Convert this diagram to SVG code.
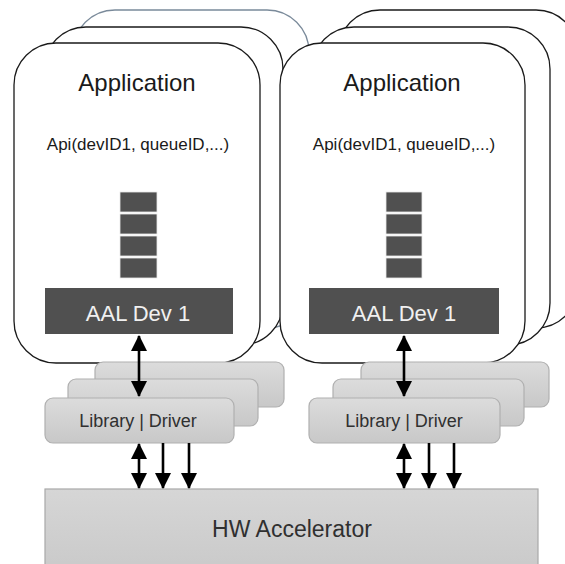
<svg xmlns="http://www.w3.org/2000/svg" width="565" height="564" viewBox="0 0 565 564">
<style>
.app{fill:#ffffff;stroke:#1a1a1a;stroke-width:1.3}
.appb{fill:#ffffff;stroke:#7a8a9a;stroke-width:1.3}
.q{fill:#505050;stroke:#e8e8e8;stroke-width:0.8}
.aal{fill:#505050}
.lib{fill:url(#gl);stroke:#b0b0b0;stroke-width:1.2}
.hw{fill:url(#gh);stroke:#a8a8a8;stroke-width:1.2}
.t1{font-family:"Liberation Sans",Arial,sans-serif;font-size:24px;fill:#1a1a1a;text-anchor:middle}
.t2{font-family:"Liberation Sans",Arial,sans-serif;font-size:17px;fill:#1a1a1a;text-anchor:middle}
.t3{font-family:"Liberation Sans",Arial,sans-serif;font-size:22px;fill:#f0f0f0;text-anchor:middle}
.t4{font-family:"Liberation Sans",Arial,sans-serif;font-size:18px;fill:#303030;text-anchor:middle}
.t5{font-family:"Liberation Sans",Arial,sans-serif;font-size:23px;fill:#303030;text-anchor:middle}
.ar{stroke:#000;stroke-width:2.6;fill:none}
</style>
<defs>
<linearGradient id="gl" x1="0" y1="0" x2="0" y2="1"><stop offset="0" stop-color="#dcdcdc"/><stop offset="1" stop-color="#c8c8c8"/></linearGradient>
<linearGradient id="gh" x1="0" y1="0" x2="0" y2="1"><stop offset="0" stop-color="#d6d6d6"/><stop offset="1" stop-color="#cacaca"/></linearGradient>
<marker id="ah" viewBox="0 0 16 16" refX="15" refY="8" markerWidth="16" markerHeight="16" markerUnits="userSpaceOnUse" orient="auto-start-reverse"><path d="M0,0 L16,8 L0,16 Z" fill="#000"/></marker>
</defs>
<g id="app-left-back"><rect class="appb" x="73" y="10" width="236" height="318" rx="42"/></g>
<g id="app-left-mid"><rect class="app" x="44" y="27" width="239" height="318" rx="42"/></g>
<g id="app-left">
<rect class="app" x="14" y="43" width="246" height="320" rx="42"/>
<text class="t1" x="137" y="91">Application</text>
<text class="t2" x="138" y="150">Api(devID1, queueID,...)</text>
<rect class="q" x="120" y="192" width="37" height="20"/>
<rect class="q" x="120" y="214" width="37" height="20"/>
<rect class="q" x="120" y="236" width="37" height="20"/>
<rect class="q" x="120" y="258" width="37" height="20"/>
<rect class="aal" x="45" y="288" width="188" height="46"/>
<text class="t3" x="138" y="321">AAL Dev 1</text>
</g>
<g id="app-right-back"><rect class="app" x="338" y="10" width="240" height="318" rx="42"/></g>
<g id="app-right-mid"><rect class="app" x="312" y="27" width="238" height="318" rx="42"/></g>
<g id="app-right">
<rect class="app" x="280" y="43" width="245" height="320" rx="42"/>
<text class="t1" x="402" y="91">Application</text>
<text class="t2" x="404" y="150">Api(devID1, queueID,...)</text>
<rect class="q" x="386" y="192" width="36" height="20"/>
<rect class="q" x="386" y="214" width="36" height="20"/>
<rect class="q" x="386" y="236" width="36" height="20"/>
<rect class="q" x="386" y="258" width="36" height="20"/>
<rect class="aal" x="309" y="288" width="190" height="46"/>
<text class="t3" x="404" y="321">AAL Dev 1</text>
</g>
<g id="lib-left-back"><rect class="lib" x="95" y="362" width="189" height="45" rx="8"/></g>
<g id="lib-left-mid"><rect class="lib" x="68" y="379" width="190" height="47" rx="8"/></g>
<g id="lib-left">
<rect class="lib" x="45" y="398" width="189" height="45" rx="8"/>
<text class="t4" x="138" y="427">Library | Driver</text>
</g>
<g id="lib-right-back"><rect class="lib" x="361" y="362" width="188" height="45" rx="8"/></g>
<g id="lib-right-mid"><rect class="lib" x="333" y="379" width="191" height="47" rx="8"/></g>
<g id="lib-right">
<rect class="lib" x="309" y="398" width="191" height="45" rx="8"/>
<text class="t4" x="404" y="427">Library | Driver</text>
</g>
<g id="hw">
<rect class="hw" x="45" y="489" width="493" height="80"/>
<text class="t5" x="292" y="537">HW Accelerator</text>
</g>
<g id="connectors">
<line class="ar" x1="139" y1="336" x2="139" y2="396" marker-start="url(#ah)" marker-end="url(#ah)"/>
<line class="ar" x1="404" y1="336" x2="404" y2="396" marker-start="url(#ah)" marker-end="url(#ah)"/>
<line class="ar" x1="139" y1="444" x2="139" y2="488" marker-start="url(#ah)" marker-end="url(#ah)"/>
<line class="ar" x1="163" y1="443" x2="163" y2="488" marker-end="url(#ah)"/>
<line class="ar" x1="189" y1="443" x2="189" y2="488" marker-end="url(#ah)"/>
<line class="ar" x1="404" y1="444" x2="404" y2="488" marker-start="url(#ah)" marker-end="url(#ah)"/>
<line class="ar" x1="429" y1="443" x2="429" y2="488" marker-end="url(#ah)"/>
<line class="ar" x1="454" y1="443" x2="454" y2="488" marker-end="url(#ah)"/>
</g>
</svg>
